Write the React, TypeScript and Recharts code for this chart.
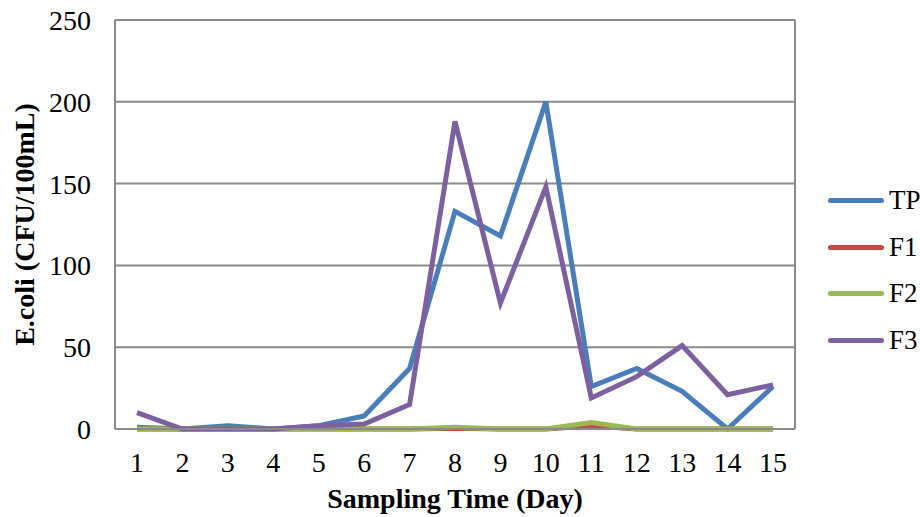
import React from 'react'
import { LineChart, Line, XAxis, YAxis, CartesianGrid, Legend } from 'recharts'

const days = ['1', '2', '3', '4', '5', '6', '7', '8', '9', '10', '11', '12', '13', '14', '15']
const tp = [1, 0, 2, 0, 2, 8, 37, 133, 118, 200, 26, 37, 23, 0, 26]
const f1 = [0, 0, 0, 0, 0, 0, 0, 0.5, 0, 0, 2, 0, 0, 0, 0]
const f2 = [0, 0, 0, 0, 0, 0, 0, 1, 0, 0, 4, 0, 0, 0, 0]
const f3 = [10, 0, 0, 0, 2, 3, 15, 188, 77, 148, 19, 32, 51, 21, 27]
const yTicks = [0, 50, 100, 150, 200, 250]

const seriesList = [
  { key: 'TP', color: '#4A7EBB' },
  { key: 'F1', color: '#BE4B48' },
  { key: 'F2', color: '#98B954' },
  { key: 'F3', color: '#7D60A0' },
]

const data = days.map((d, i) => ({ day: d, TP: tp[i], F1: f1[i], F2: f2[i], F3: f3[i] }))

const font = '"Liberation Serif", "DejaVu Serif", serif'

function LegendBox() {
  return (
    <div style={{ fontFamily: font, fontSize: 27, color: '#000' }}>
      {seriesList.map(s => (
        <div key={s.key} style={{ display: 'flex', alignItems: 'center', height: 46.7 }}>
          <div style={{ width: 56, height: 5, borderRadius: 3, background: s.color, marginRight: 5 }} />
          <span>{s.key}</span>
        </div>
      ))}
    </div>
  )
}

export default function App() {
  return (
    <div style={{ position: 'absolute', left: 0, top: 0, width: 920, height: 517, background: '#fff' }}>
      <LineChart width={920} height={517} data={data} margin={{ top: 20, right: 125, left: 0, bottom: 0 }}>
        <CartesianGrid
          stroke="#8a8a8a"
          strokeWidth={2}
          vertical={true}
          verticalCoordinatesGenerator={({ offset }: any) => [offset.left + offset.width]}
        />
        <XAxis
          dataKey="day"
          height={88}
          padding={{ left: 22, right: 22 }}
          tickLine={false}
          axisLine={{ stroke: '#8a8a8a', strokeWidth: 2 }}
          tick={{ fontSize: 28, fill: '#000', fontFamily: font }}
          tickMargin={17}
          interval={0}
          label={{ value: 'Sampling Time (Day)', position: 'insideBottom', offset: 9, style: { fontSize: 28, fontWeight: 'bold', fill: '#000', fontFamily: font } }}
        />
        <YAxis
          width={115}
          domain={[0, 250]}
          ticks={yTicks}
          tickLine={false}
          axisLine={{ stroke: '#8a8a8a', strokeWidth: 2 }}
          tick={{ fontSize: 28, fill: '#000', fontFamily: font }}
          tickMargin={18}
          label={{ value: 'E.coli (CFU/100mL)', angle: -90, position: 'insideLeft', offset: 24, style: { textAnchor: 'middle', fontSize: 28, fontWeight: 'bold', fill: '#000', fontFamily: font } }}
        />
        <Legend
          layout="horizontal"
          align="center"
          verticalAlign="middle"
          content={() => <LegendBox />}
          wrapperStyle={{ left: 828, top: 177, right: 'auto', width: 'auto' }}
        />
        {seriesList.map(s => (
          <Line
            key={s.key}
            dataKey={s.key}
            stroke={s.color}
            strokeWidth={5}
            dot={false}
            type="linear"
            isAnimationActive={false}
          />
        ))}
      </LineChart>
    </div>
  )
}
